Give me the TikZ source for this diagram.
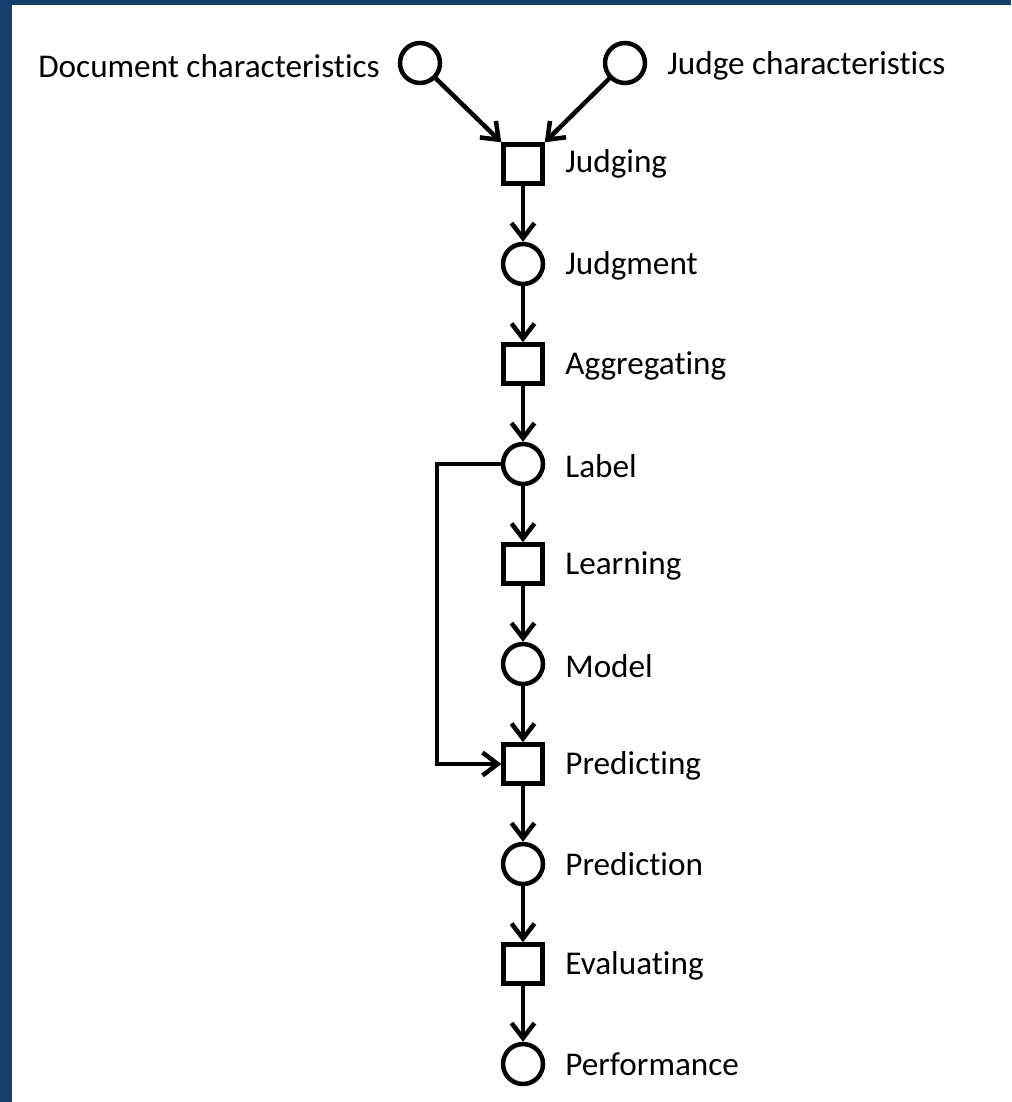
\documentclass[tikz,border=0pt]{standalone}
\usepackage{fontspec}
\setmainfont[Ligatures=NoCommon]{Carlito}
\usetikzlibrary{arrows.meta}
\definecolor{frameblue}{HTML}{173F6B}
\begin{document}
\begin{tikzpicture}[x=0.02cm,y=-0.02cm,
  circ/.style={circle,draw,line width=0.09cm,minimum size=0.8cm,inner sep=0pt},
  sq/.style={rectangle,draw,line width=0.09cm,minimum size=0.78cm,inner sep=0pt},
  lbl/.style={font=\fontsize{18.9}{22}\selectfont,inner sep=0pt,anchor=west},
  conn/.style={line width=0.09cm,-{Straight Barb[length=0.3cm,width=0.46cm]}}]
\useasboundingbox (0,0) rectangle (1011,1102);
\fill[frameblue] (0,0) rectangle (1011,1102);
\fill[white] (12,5) rectangle (1011,1102);
% top inputs
\node[circ] (doc) at (420,63) {};
\node[circ] (judge) at (625,63) {};
\node[lbl,anchor=east] (doclbl) at (380,66) {Document characteristics};
\node[lbl] (judgelbl) at (667,66) {Judge characteristics};
% column
\node[sq] (judging) at (523,164) {};
\node[circ] (judgment) at (523,264) {};
\node[sq] (aggregating) at (523,364) {};
\node[circ] (label) at (523,464) {};
\node[sq] (learning) at (523,564) {};
\node[circ] (model) at (523,664) {};
\node[sq] (predicting) at (523,764) {};
\node[circ] (prediction) at (523,864) {};
\node[sq] (evaluating) at (523,964) {};
\node[circ] (performance) at (523,1064) {};
% labels
\node[lbl] (t1) at (565,164) {Judging};
\node[lbl] (t2) at (565,266) {Judgment};
\node[lbl] (t3) at (565,366) {Aggregating};
\node[lbl] (t4) at (565,466) {Label};
\node[lbl] (t5) at (565,566) {Learning};
\node[lbl] (t6) at (565,666) {Model};
\node[lbl] (t7) at (565,766) {Predicting};
\node[lbl] (t8) at (565,864) {Prediction};
\node[lbl] (t9) at (565,966) {Evaluating};
\node[lbl] (t10) at (565,1064) {Performance};
% connectors
\draw[conn] (doc) -- (judging.north west);
\draw[conn] (judge) -- (judging.north east);
\draw[conn] (judging) -- (judgment);
\draw[conn] (judgment) -- (aggregating);
\draw[conn] (aggregating) -- (label);
\draw[conn] (label) -- (learning);
\draw[conn] (learning) -- (model);
\draw[conn] (model) -- (predicting);
\draw[conn] (predicting) -- (prediction);
\draw[conn] (prediction) -- (evaluating);
\draw[conn] (evaluating) -- (performance);
\coordinate (fbtop) at (437,464);
\coordinate (fbbot) at (437,764);
\draw[conn,line join=miter] (label.west) -- (fbtop) -- (fbbot) -- (predicting.west);
\end{tikzpicture}
\end{document}
